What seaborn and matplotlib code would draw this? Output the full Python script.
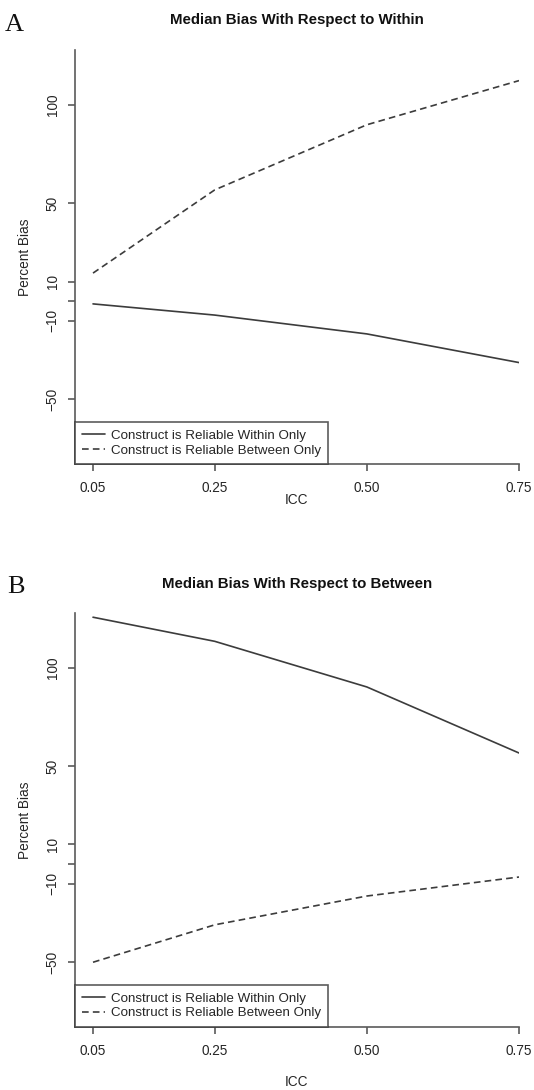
import numpy as np
import pandas as pd
import matplotlib
matplotlib.use("Agg")
import matplotlib.pyplot as plt
from matplotlib.lines import Line2D
import seaborn as sns

# ---- data ----
icc = [0.05, 0.25, 0.50, 0.75]
a_within = [-1.4, -7.1, -16.7, -31.3]
a_between = [14.3, 56.7, 89.9, 112.4]
b_within = [126.0, 113.7, 90.4, 56.7]
b_between = [-50.1, -31.0, -16.3, -6.6]

series_names = ["Construct is Reliable Within Only", "Construct is Reliable Between Only"]
titles = ["Median Bias With Respect to Within", "Median Bias With Respect to Between"]
panel_letters = ["A", "B"]
ytick_vals = [-50, -10, 0, 10, 50, 100]
ytick_labels = ["\u221250", "\u221210", "", "10", "50", "100"]
xtick_labels = ["0.05", "0.25", "0.50", "0.75"]

sns.set_style("white")
plt.rcParams['font.family'] = ['Liberation Sans', 'DejaVu Sans']

W, H = 534, 1090
fig = plt.figure(figsize=(W / 100, H / 100), dpi=100)

def frac_box(left, top, right, bottom):
    return [left / W, 1 - bottom / H, (right - left) / W, (bottom - top) / H]

axes_boxes = [frac_box(75, 50, 519, 464), frac_box(75, 613.3, 519, 1026.7)]
letter_pos = [(5, 31), (7, 593)]
xlabel_pads = [-1.5, 12.5]

line_col = "#3c3c3c"
axis_col = "#5a5a5a"
text_col = "#262626"

panels = [(a_within, a_between), (b_within, b_between)]
for i, (w_vals, b_vals) in enumerate(panels):
    ax = fig.add_axes(axes_boxes[i])
    df = pd.DataFrame({
        "ICC": icc * 2,
        "bias": list(w_vals) + list(b_vals),
        "series": [series_names[0]] * len(icc) + [series_names[1]] * len(icc),
    })
    sns.lineplot(data=df, x="ICC", y="bias", style="series",
                 dashes={series_names[0]: "", series_names[1]: (4, 2.5)},
                 color=line_col, linewidth=1.2, ax=ax, legend=False)
    ax.set_xlim(0.0204, 0.75)
    ax.set_ylim(-83, 128)
    ax.set_xticks(icc)
    ax.set_xticklabels(xtick_labels)
    ax.set_yticks(ytick_vals)
    ax.set_yticklabels(ytick_labels, rotation=90, va="center")
    for s in ["top", "right"]:
        ax.spines[s].set_visible(False)
    for s in ["left", "bottom"]:
        ax.spines[s].set_color(axis_col)
        ax.spines[s].set_linewidth(1.2)
    ax.tick_params(axis="both", which="both", direction="out", length=5,
                   width=1.2, color=axis_col, labelsize=9.8, labelcolor=text_col,
                   left=True, bottom=True, pad=7.5)
    ax.tick_params(axis="y", pad=6)
    ax.set_xlabel("ICC", fontsize=9.8, color=text_col, labelpad=xlabel_pads[i])
    ax.set_ylabel("Percent Bias", fontsize=9.8, color=text_col, labelpad=10)
    ax.set_title(titles[i], fontsize=10.8, fontweight="bold", color="#111111", pad=18.5)

    handles = [Line2D([], [], color=line_col, lw=1.2, ls="-"),
               Line2D([], [], color=line_col, lw=1.2, ls=(0, (4, 2.5)))]
    leg = ax.legend(handles, series_names, loc="lower left", bbox_to_anchor=(0, 0),
                    borderaxespad=0, frameon=True, fancybox=False, fontsize=9.6,
                    handlelength=1.7, handletextpad=0.45, borderpad=0.55,
                    labelspacing=0.18)
    leg.get_frame().set_edgecolor("#333333")
    leg.get_frame().set_linewidth(1.2)
    for t in leg.get_texts():
        t.set_color(text_col)

    lx, ly = letter_pos[i]
    fig.text(lx / W, 1 - ly / H, panel_letters[i], fontsize=19,
             family="Liberation Serif", color="#111111", ha="left", va="baseline")

fig.savefig("out.png", dpi=100, facecolor="white")
